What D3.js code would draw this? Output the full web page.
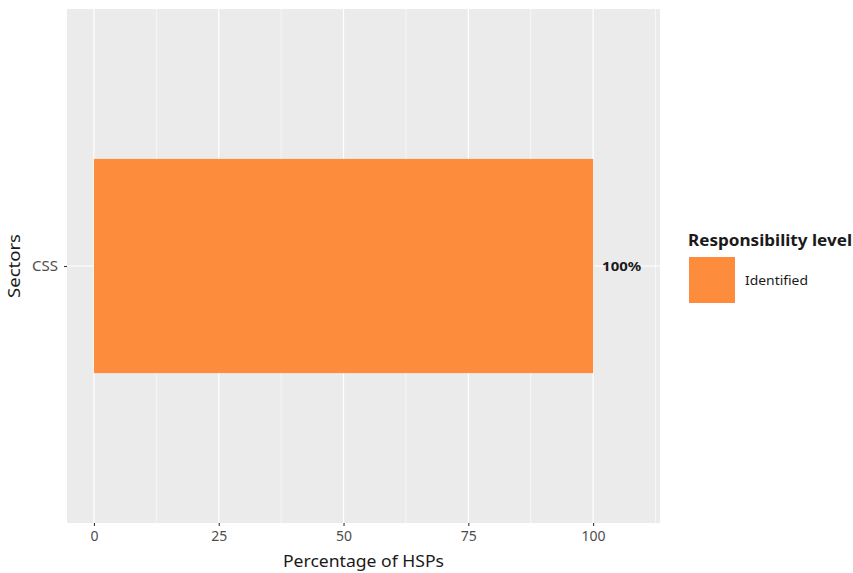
<!DOCTYPE html>
<html><head><meta charset="utf-8">
<script src="https://cdn.jsdelivr.net/npm/d3@7"></script>
<style>body{margin:0;background:#fff;} text{font-family:"Noto Sans", sans-serif;}</style>
</head><body>
<svg id="c" width="853" height="573"></svg>
<script>
const categories = ["CSS"];
const values = [100];
const labels = ["100%"];
const seriesName = "Identified";
const legendTitle = "Responsibility level";
const xTicks = [0, 25, 50, 75, 100];
const xMinor = [12.5, 37.5, 62.5, 87.5, 112.5];

const FF = "'Noto Sans', sans-serif";
const svg = d3.select("#c");
const L = 67, R = 660, T = 9, B = 523;
const x = d3.scaleLinear().domain([-5.4, 113.4]).range([L, R]);
const bandCenter = c => T + (B - T) / 2;
const barH = (B - T) * 0.5 / 1.2;
const col = "#FD8D3C";

svg.append("rect").attr("x", L).attr("y", T).attr("width", R - L).attr("height", B - T).attr("fill", "#EBEBEB");
svg.selectAll(".minor").data(xMinor).join("line")
  .attr("x1", d => x(d)).attr("x2", d => x(d)).attr("y1", T).attr("y2", B)
  .attr("stroke", "#fff").attr("stroke-width", 0.6);
svg.selectAll(".major").data(xTicks).join("line")
  .attr("x1", d => x(d)).attr("x2", d => x(d)).attr("y1", T).attr("y2", B)
  .attr("stroke", "#fff").attr("stroke-width", 1.2);
svg.selectAll(".hmaj").data(categories).join("line")
  .attr("x1", L).attr("x2", R).attr("y1", d => bandCenter(d)).attr("y2", d => bandCenter(d))
  .attr("stroke", "#fff").attr("stroke-width", 1.2);

svg.selectAll(".bar").data(categories).join("rect")
  .attr("x", x(0)).attr("width", (d, i) => x(values[i]) - x(0))
  .attr("y", d => bandCenter(d) - barH / 2).attr("height", barH)
  .attr("fill", col);

svg.selectAll(".lab").data(categories).join("text")
  .attr("x", (d, i) => x(values[i]) + 9).attr("y", d => bandCenter(d) + 5)
  .attr("font-size", 13).attr("font-weight", "bold").attr("fill", "#1a1a1a")
  .attr("textLength", 39).attr("lengthAdjust", "spacingAndGlyphs")
  .text((d, i) => labels[i]);

const xa = svg.append("g").attr("transform", `translate(0,${B})`)
  .call(d3.axisBottom(x).tickValues(xTicks).tickSize(3).tickPadding(5));
xa.select(".domain").remove();
xa.selectAll("line").attr("stroke", "#333").attr("stroke-width", 1.1);
xa.selectAll("text").attr("font-size", 14).attr("fill", "#4d4d4d").attr("font-family", FF);

const ya = svg.append("g").attr("transform", `translate(${L},0)`)
  .call(d3.axisLeft(d3.scalePoint().domain(categories).range([T, B]).padding(0.5)).tickSize(3).tickPadding(6));
ya.select(".domain").remove();
ya.selectAll("line").attr("stroke", "#333").attr("stroke-width", 1.1);
ya.selectAll("text").attr("font-size", 14).attr("fill", "#4d4d4d").attr("font-family", FF)
  .attr("textLength", 26).attr("lengthAdjust", "spacingAndGlyphs");

svg.append("text").attr("x", (L + R) / 2).attr("y", 567).attr("text-anchor", "middle")
  .attr("font-size", 16).attr("fill", "#1a1a1a").attr("textLength", 161).attr("lengthAdjust", "spacingAndGlyphs")
  .text("Percentage of HSPs");
svg.append("text").attr("transform", `translate(20,${(T + B) / 2}) rotate(-90)`).attr("text-anchor", "middle")
  .attr("font-size", 16).attr("fill", "#1a1a1a").attr("textLength", 64).attr("lengthAdjust", "spacingAndGlyphs")
  .text("Sectors");

svg.append("text").attr("x", 688).attr("y", 246).attr("font-size", 16).attr("font-weight", "bold")
  .attr("fill", "#1a1a1a").attr("textLength", 164).attr("lengthAdjust", "spacingAndGlyphs").text(legendTitle);
svg.append("rect").attr("x", 689).attr("y", 257).attr("width", 46).attr("height", 46).attr("fill", col);
svg.append("text").attr("x", 745).attr("y", 285).attr("font-size", 13).attr("fill", "#1a1a1a")
  .attr("textLength", 63).attr("lengthAdjust", "spacingAndGlyphs").text(seriesName);
</script>
</body></html>
